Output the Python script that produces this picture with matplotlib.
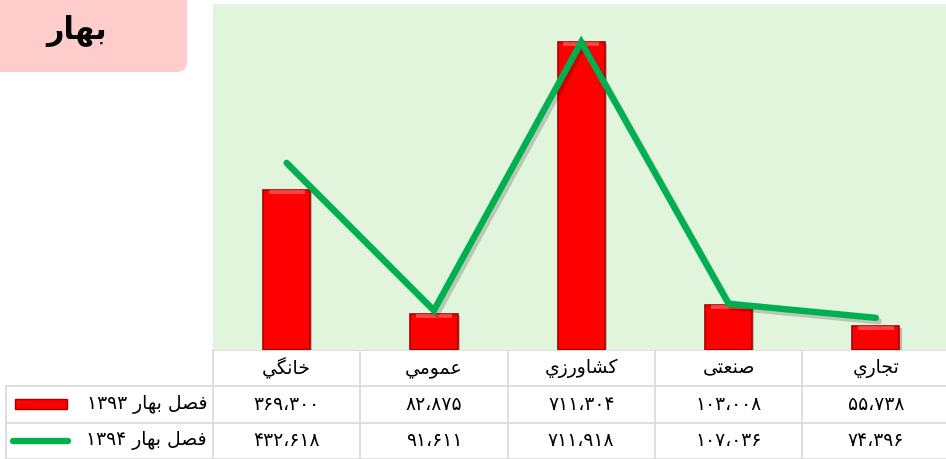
import matplotlib
matplotlib.use('Agg')
import matplotlib.pyplot as plt
import matplotlib.patheffects as pe
from matplotlib.patches import FancyBboxPatch, Rectangle
import numpy as np

plt.rcParams['font.family'] = ['DejaVu Sans']

# --- data ---
title = 'بهار'
categories = ['خانگي', 'عمومي', 'كشاورزي', 'صنعتی', 'تجاري']
series_names = ['فصل بهار ۱۳۹۳', 'فصل بهار ۱۳۹۴']
spring_93 = [369300, 82875, 711304, 103008, 55738]
spring_94 = [432618, 91611, 711918, 107036, 74396]

# --- tiny arabic shaper (matplotlib has no bidi / shaping) ---
# letter: (isolated, final, initial, medial); None -> does not join forward
FORMS = {
    'ا': ('\uFE8D', '\uFE8E', None, None),
    'ب': ('\uFE8F', '\uFE90', '\uFE91', '\uFE92'),
    'ت': ('\uFE95', '\uFE96', '\uFE97', '\uFE98'),
    'ج': ('\uFE9D', '\uFE9E', '\uFE9F', '\uFEA0'),
    'خ': ('\uFEA5', '\uFEA6', '\uFEA7', '\uFEA8'),
    'ر': ('\uFEAD', '\uFEAE', None, None),
    'ز': ('\uFEAF', '\uFEB0', None, None),
    'ش': ('\uFEB5', '\uFEB6', '\uFEB7', '\uFEB8'),
    'ص': ('\uFEB9', '\uFEBA', '\uFEBB', '\uFEBC'),
    'ع': ('\uFEC9', '\uFECA', '\uFECB', '\uFECC'),
    'ف': ('\uFED1', '\uFED2', '\uFED3', '\uFED4'),
    'ك': ('\uFED9', '\uFEDA', '\uFEDB', '\uFEDC'),
    'ل': ('\uFEDD', '\uFEDE', '\uFEDF', '\uFEE0'),
    'م': ('\uFEE1', '\uFEE2', '\uFEE3', '\uFEE4'),
    'ن': ('\uFEE5', '\uFEE6', '\uFEE7', '\uFEE8'),
    'ه': ('\uFEE9', '\uFEEA', '\uFEEB', '\uFEEC'),
    'و': ('\uFEED', '\uFEEE', None, None),
    'ي': ('\uFEF1', '\uFEF2', '\uFEF3', '\uFEF4'),
    'ی': ('\uFBFC', '\uFBFD', '\uFBFE', '\uFBFF'),
    'گ': ('\uFB92', '\uFB93', '\uFB94', '\uFB95'),
}


def shape_word(w):
    out = []
    for i, c in enumerate(w):
        if c not in FORMS:
            out.append(c)
            continue
        prev = w[i - 1] if i > 0 else None
        nxt = w[i + 1] if i + 1 < len(w) else None
        join_prev = prev in FORMS and FORMS[prev][2] is not None
        join_next = nxt in FORMS and FORMS[c][2] is not None
        iso, fin, ini, med = FORMS[c]
        if join_prev and join_next:
            out.append(med)
        elif join_prev:
            out.append(fin)
        elif join_next:
            out.append(ini)
        else:
            out.append(iso)
    return ''.join(out)[::-1]


def rtl(text):
    words = text.split(' ')
    return ' '.join(shape_word(w) if any(ch in FORMS for ch in w) else w
                    for w in reversed(words))


def fa_num(v):
    return f'{v:,}'.translate(str.maketrans('0123456789,', '۰۱۲۳۴۵۶۷۸۹،'))


W, H = 946, 459
fig = plt.figure(figsize=(W / 100, H / 100), dpi=100)

# overlay in pixel coordinates for table + title box
ov = fig.add_axes([0, 0, 1, 1])
ov.set_xlim(0, W)
ov.set_ylim(H, 0)
ov.axis('off')

plot_left, plot_top, plot_bottom = 213, 4, 350
col_w = 147.3
row_h = 36.3

ax = fig.add_axes([plot_left / W, 1 - plot_bottom / H,
                   5 * col_w / W, (plot_bottom - plot_top) / H])
ax.set_facecolor('#e0f5dc')
for s in ax.spines.values():
    s.set_visible(False)
ax.set_xticks([])
ax.set_yticks([])

x = np.arange(len(categories))
bars = ax.bar(x, spring_93, width=0.32, color='#ff0000', edgecolor='#a80000',
              linewidth=1.2, zorder=2)
for b in bars:
    b.set_path_effects([pe.SimplePatchShadow(offset=(1.5, -1.5), alpha=0.25), pe.Normal()])
    # light highlight at the top of the bar
    ax.add_patch(Rectangle((b.get_x() + b.get_width() * 0.12, b.get_height()),
                           b.get_width() * 0.76, -9000, color='#ff7070',
                           alpha=0.6, lw=0, zorder=3))
ax.plot(x, spring_94, color='#00b050', lw=4.6, solid_capstyle='round',
        solid_joinstyle='miter', zorder=4,
        path_effects=[pe.SimpleLineShadow(offset=(2, -2.5), alpha=0.18), pe.Normal()])
ax.set_xlim(-0.5, len(categories) - 0.5)
ax.set_ylim(0, 800000)

# title box
ov.add_patch(FancyBboxPatch((-20, -20), 207, 92,
                            boxstyle='round,pad=0,rounding_size=10',
                            fc='#ffcccc', ec='none'))
ov.text(77, 31, rtl(title), fontsize=22, fontweight='bold',
        ha='center', va='center')

# data table
grid = '#d9d9d9'
rows_y = [plot_bottom + k * row_h for k in range(4)]
right = plot_left + 5 * col_w
for k, y in enumerate(rows_y):
    x0 = plot_left if k == 0 else 6
    ov.plot([x0, right], [y, y], color=grid, lw=1.2)
for j in range(6):
    xx = plot_left + j * col_w
    ov.plot([xx, xx], [rows_y[0], H], color=grid, lw=1.2)
ov.plot([6, 6], [rows_y[1], H], color=grid, lw=1.2)

for j, cat in enumerate(categories):
    cx = plot_left + (j + 0.5) * col_w
    ov.text(cx, rows_y[0] + row_h / 2, rtl(cat), fontsize=13.5,
            ha='center', va='center')
    for k, vals in enumerate([spring_93, spring_94]):
        ov.text(cx, rows_y[k + 1] + row_h / 2, fa_num(vals[j]), fontsize=13.5,
                ha='center', va='center')

for k, name in enumerate(series_names):
    cy = rows_y[k + 1] + row_h / 2
    ov.text(207, cy, rtl(name), fontsize=13.5, ha='right', va='center')
ry = rows_y[1] + row_h / 2
ov.add_patch(Rectangle((15, ry - 5), 52, 10, fc='#ff0000', ec='#a80000', lw=1))
gy = rows_y[2] + row_h / 2
ov.plot([13, 68], [gy, gy], color='#00b050', lw=4.6, solid_capstyle='round')

fig.savefig('out.png', dpi=100)
